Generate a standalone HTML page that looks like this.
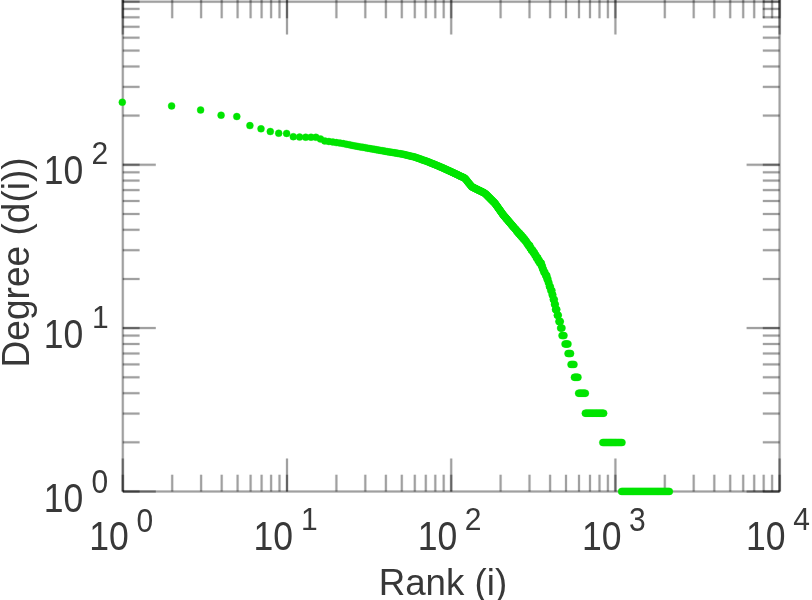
<!DOCTYPE html>
<html><head><meta charset="utf-8"><title>Degree vs Rank</title>
<style>html,body{margin:0;padding:0;background:#fff}svg{display:block}text{font-family:"Liberation Sans",sans-serif;fill:#383838}</style></head><body>
<svg width="812" height="600" viewBox="0 0 812 600">
<rect width="812" height="600" fill="#fff"/>
<g stroke="#000" stroke-opacity="0.09" stroke-width="3.2" fill="none">
<line x1="122.8" y1="0.0" x2="122.8" y2="491.5"/>
<line x1="779.6" y1="0.0" x2="779.6" y2="491.5"/>
<line x1="122.8" y1="1.7" x2="779.6" y2="1.7"/>
<line x1="122.8" y1="491.5" x2="779.6" y2="491.5"/>
<line x1="122.8" y1="491.5" x2="122.8" y2="458.5"/>
<line x1="122.8" y1="0.0" x2="122.8" y2="34.5"/>
<line x1="122.8" y1="491.5" x2="122.8" y2="474.7"/>
<line x1="122.8" y1="0.0" x2="122.8" y2="18.3"/>
<line x1="172.2" y1="491.5" x2="172.2" y2="474.7"/>
<line x1="172.2" y1="0.0" x2="172.2" y2="18.3"/>
<line x1="201.1" y1="491.5" x2="201.1" y2="474.7"/>
<line x1="201.1" y1="0.0" x2="201.1" y2="18.3"/>
<line x1="221.7" y1="491.5" x2="221.7" y2="474.7"/>
<line x1="221.7" y1="0.0" x2="221.7" y2="18.3"/>
<line x1="237.6" y1="491.5" x2="237.6" y2="474.7"/>
<line x1="237.6" y1="0.0" x2="237.6" y2="18.3"/>
<line x1="250.6" y1="491.5" x2="250.6" y2="474.7"/>
<line x1="250.6" y1="0.0" x2="250.6" y2="18.3"/>
<line x1="261.6" y1="491.5" x2="261.6" y2="474.7"/>
<line x1="261.6" y1="0.0" x2="261.6" y2="18.3"/>
<line x1="271.1" y1="491.5" x2="271.1" y2="474.7"/>
<line x1="271.1" y1="0.0" x2="271.1" y2="18.3"/>
<line x1="279.5" y1="491.5" x2="279.5" y2="474.7"/>
<line x1="279.5" y1="0.0" x2="279.5" y2="18.3"/>
<line x1="287.0" y1="491.5" x2="287.0" y2="458.5"/>
<line x1="287.0" y1="0.0" x2="287.0" y2="34.5"/>
<line x1="287.0" y1="491.5" x2="287.0" y2="474.7"/>
<line x1="287.0" y1="0.0" x2="287.0" y2="18.3"/>
<line x1="336.4" y1="491.5" x2="336.4" y2="474.7"/>
<line x1="336.4" y1="0.0" x2="336.4" y2="18.3"/>
<line x1="365.3" y1="491.5" x2="365.3" y2="474.7"/>
<line x1="365.3" y1="0.0" x2="365.3" y2="18.3"/>
<line x1="385.9" y1="491.5" x2="385.9" y2="474.7"/>
<line x1="385.9" y1="0.0" x2="385.9" y2="18.3"/>
<line x1="401.8" y1="491.5" x2="401.8" y2="474.7"/>
<line x1="401.8" y1="0.0" x2="401.8" y2="18.3"/>
<line x1="414.8" y1="491.5" x2="414.8" y2="474.7"/>
<line x1="414.8" y1="0.0" x2="414.8" y2="18.3"/>
<line x1="425.8" y1="491.5" x2="425.8" y2="474.7"/>
<line x1="425.8" y1="0.0" x2="425.8" y2="18.3"/>
<line x1="435.3" y1="491.5" x2="435.3" y2="474.7"/>
<line x1="435.3" y1="0.0" x2="435.3" y2="18.3"/>
<line x1="443.7" y1="491.5" x2="443.7" y2="474.7"/>
<line x1="443.7" y1="0.0" x2="443.7" y2="18.3"/>
<line x1="451.2" y1="491.5" x2="451.2" y2="458.5"/>
<line x1="451.2" y1="0.0" x2="451.2" y2="34.5"/>
<line x1="451.2" y1="491.5" x2="451.2" y2="474.7"/>
<line x1="451.2" y1="0.0" x2="451.2" y2="18.3"/>
<line x1="500.6" y1="491.5" x2="500.6" y2="474.7"/>
<line x1="500.6" y1="0.0" x2="500.6" y2="18.3"/>
<line x1="529.5" y1="491.5" x2="529.5" y2="474.7"/>
<line x1="529.5" y1="0.0" x2="529.5" y2="18.3"/>
<line x1="550.1" y1="491.5" x2="550.1" y2="474.7"/>
<line x1="550.1" y1="0.0" x2="550.1" y2="18.3"/>
<line x1="566.0" y1="491.5" x2="566.0" y2="474.7"/>
<line x1="566.0" y1="0.0" x2="566.0" y2="18.3"/>
<line x1="579.0" y1="491.5" x2="579.0" y2="474.7"/>
<line x1="579.0" y1="0.0" x2="579.0" y2="18.3"/>
<line x1="590.0" y1="491.5" x2="590.0" y2="474.7"/>
<line x1="590.0" y1="0.0" x2="590.0" y2="18.3"/>
<line x1="599.5" y1="491.5" x2="599.5" y2="474.7"/>
<line x1="599.5" y1="0.0" x2="599.5" y2="18.3"/>
<line x1="607.9" y1="491.5" x2="607.9" y2="474.7"/>
<line x1="607.9" y1="0.0" x2="607.9" y2="18.3"/>
<line x1="615.4" y1="491.5" x2="615.4" y2="458.5"/>
<line x1="615.4" y1="0.0" x2="615.4" y2="34.5"/>
<line x1="615.4" y1="491.5" x2="615.4" y2="474.7"/>
<line x1="615.4" y1="0.0" x2="615.4" y2="18.3"/>
<line x1="664.8" y1="491.5" x2="664.8" y2="474.7"/>
<line x1="664.8" y1="0.0" x2="664.8" y2="18.3"/>
<line x1="693.7" y1="491.5" x2="693.7" y2="474.7"/>
<line x1="693.7" y1="0.0" x2="693.7" y2="18.3"/>
<line x1="714.3" y1="491.5" x2="714.3" y2="474.7"/>
<line x1="714.3" y1="0.0" x2="714.3" y2="18.3"/>
<line x1="730.2" y1="491.5" x2="730.2" y2="474.7"/>
<line x1="730.2" y1="0.0" x2="730.2" y2="18.3"/>
<line x1="743.2" y1="491.5" x2="743.2" y2="474.7"/>
<line x1="743.2" y1="0.0" x2="743.2" y2="18.3"/>
<line x1="754.2" y1="491.5" x2="754.2" y2="474.7"/>
<line x1="754.2" y1="0.0" x2="754.2" y2="18.3"/>
<line x1="763.7" y1="491.5" x2="763.7" y2="474.7"/>
<line x1="763.7" y1="0.0" x2="763.7" y2="18.3"/>
<line x1="772.1" y1="491.5" x2="772.1" y2="474.7"/>
<line x1="772.1" y1="0.0" x2="772.1" y2="18.3"/>
<line x1="779.6" y1="491.5" x2="779.6" y2="458.5"/>
<line x1="779.6" y1="0.0" x2="779.6" y2="34.5"/>
<line x1="779.6" y1="491.5" x2="779.6" y2="474.7"/>
<line x1="779.6" y1="0.0" x2="779.6" y2="18.3"/>
<line x1="122.8" y1="491.5" x2="155.8" y2="491.5"/>
<line x1="779.6" y1="491.5" x2="746.6" y2="491.5"/>
<line x1="122.8" y1="491.5" x2="139.6" y2="491.5"/>
<line x1="779.6" y1="491.5" x2="762.8" y2="491.5"/>
<line x1="122.8" y1="442.3" x2="139.6" y2="442.3"/>
<line x1="779.6" y1="442.3" x2="762.8" y2="442.3"/>
<line x1="122.8" y1="413.6" x2="139.6" y2="413.6"/>
<line x1="779.6" y1="413.6" x2="762.8" y2="413.6"/>
<line x1="122.8" y1="393.2" x2="139.6" y2="393.2"/>
<line x1="779.6" y1="393.2" x2="762.8" y2="393.2"/>
<line x1="122.8" y1="377.3" x2="139.6" y2="377.3"/>
<line x1="779.6" y1="377.3" x2="762.8" y2="377.3"/>
<line x1="122.8" y1="364.4" x2="139.6" y2="364.4"/>
<line x1="779.6" y1="364.4" x2="762.8" y2="364.4"/>
<line x1="122.8" y1="353.5" x2="139.6" y2="353.5"/>
<line x1="779.6" y1="353.5" x2="762.8" y2="353.5"/>
<line x1="122.8" y1="344.0" x2="139.6" y2="344.0"/>
<line x1="779.6" y1="344.0" x2="762.8" y2="344.0"/>
<line x1="122.8" y1="335.6" x2="139.6" y2="335.6"/>
<line x1="779.6" y1="335.6" x2="762.8" y2="335.6"/>
<line x1="122.8" y1="328.1" x2="155.8" y2="328.1"/>
<line x1="779.6" y1="328.1" x2="746.6" y2="328.1"/>
<line x1="122.8" y1="328.1" x2="139.6" y2="328.1"/>
<line x1="779.6" y1="328.1" x2="762.8" y2="328.1"/>
<line x1="122.8" y1="279.0" x2="139.6" y2="279.0"/>
<line x1="779.6" y1="279.0" x2="762.8" y2="279.0"/>
<line x1="122.8" y1="250.2" x2="139.6" y2="250.2"/>
<line x1="779.6" y1="250.2" x2="762.8" y2="250.2"/>
<line x1="122.8" y1="229.8" x2="139.6" y2="229.8"/>
<line x1="779.6" y1="229.8" x2="762.8" y2="229.8"/>
<line x1="122.8" y1="214.0" x2="139.6" y2="214.0"/>
<line x1="779.6" y1="214.0" x2="762.8" y2="214.0"/>
<line x1="122.8" y1="201.0" x2="139.6" y2="201.0"/>
<line x1="779.6" y1="201.0" x2="762.8" y2="201.0"/>
<line x1="122.8" y1="190.1" x2="139.6" y2="190.1"/>
<line x1="779.6" y1="190.1" x2="762.8" y2="190.1"/>
<line x1="122.8" y1="180.6" x2="139.6" y2="180.6"/>
<line x1="779.6" y1="180.6" x2="762.8" y2="180.6"/>
<line x1="122.8" y1="172.3" x2="139.6" y2="172.3"/>
<line x1="779.6" y1="172.3" x2="762.8" y2="172.3"/>
<line x1="122.8" y1="164.8" x2="155.8" y2="164.8"/>
<line x1="779.6" y1="164.8" x2="746.6" y2="164.8"/>
<line x1="122.8" y1="164.8" x2="139.6" y2="164.8"/>
<line x1="779.6" y1="164.8" x2="762.8" y2="164.8"/>
<line x1="122.8" y1="115.6" x2="139.6" y2="115.6"/>
<line x1="779.6" y1="115.6" x2="762.8" y2="115.6"/>
<line x1="122.8" y1="86.9" x2="139.6" y2="86.9"/>
<line x1="779.6" y1="86.9" x2="762.8" y2="86.9"/>
<line x1="122.8" y1="66.5" x2="139.6" y2="66.5"/>
<line x1="779.6" y1="66.5" x2="762.8" y2="66.5"/>
<line x1="122.8" y1="50.6" x2="139.6" y2="50.6"/>
<line x1="779.6" y1="50.6" x2="762.8" y2="50.6"/>
<line x1="122.8" y1="37.7" x2="139.6" y2="37.7"/>
<line x1="779.6" y1="37.7" x2="762.8" y2="37.7"/>
<line x1="122.8" y1="26.8" x2="139.6" y2="26.8"/>
<line x1="779.6" y1="26.8" x2="762.8" y2="26.8"/>
<line x1="122.8" y1="17.3" x2="139.6" y2="17.3"/>
<line x1="779.6" y1="17.3" x2="762.8" y2="17.3"/>
<line x1="122.8" y1="8.9" x2="139.6" y2="8.9"/>
<line x1="779.6" y1="8.9" x2="762.8" y2="8.9"/>
<line x1="122.8" y1="1.7" x2="139.6" y2="1.7"/>
<line x1="779.6" y1="1.7" x2="762.8" y2="1.7"/>
</g>
<g stroke="#000" stroke-opacity="0.31" stroke-width="2.0" fill="none">
<line x1="122.8" y1="0.0" x2="122.8" y2="491.5"/>
<line x1="779.6" y1="0.0" x2="779.6" y2="491.5"/>
<line x1="122.8" y1="1.7" x2="779.6" y2="1.7"/>
<line x1="122.8" y1="491.5" x2="779.6" y2="491.5"/>
<line x1="122.8" y1="491.5" x2="122.8" y2="458.5"/>
<line x1="122.8" y1="0.0" x2="122.8" y2="34.5"/>
<line x1="122.8" y1="491.5" x2="122.8" y2="474.7"/>
<line x1="122.8" y1="0.0" x2="122.8" y2="18.3"/>
<line x1="172.2" y1="491.5" x2="172.2" y2="474.7"/>
<line x1="172.2" y1="0.0" x2="172.2" y2="18.3"/>
<line x1="201.1" y1="491.5" x2="201.1" y2="474.7"/>
<line x1="201.1" y1="0.0" x2="201.1" y2="18.3"/>
<line x1="221.7" y1="491.5" x2="221.7" y2="474.7"/>
<line x1="221.7" y1="0.0" x2="221.7" y2="18.3"/>
<line x1="237.6" y1="491.5" x2="237.6" y2="474.7"/>
<line x1="237.6" y1="0.0" x2="237.6" y2="18.3"/>
<line x1="250.6" y1="491.5" x2="250.6" y2="474.7"/>
<line x1="250.6" y1="0.0" x2="250.6" y2="18.3"/>
<line x1="261.6" y1="491.5" x2="261.6" y2="474.7"/>
<line x1="261.6" y1="0.0" x2="261.6" y2="18.3"/>
<line x1="271.1" y1="491.5" x2="271.1" y2="474.7"/>
<line x1="271.1" y1="0.0" x2="271.1" y2="18.3"/>
<line x1="279.5" y1="491.5" x2="279.5" y2="474.7"/>
<line x1="279.5" y1="0.0" x2="279.5" y2="18.3"/>
<line x1="287.0" y1="491.5" x2="287.0" y2="458.5"/>
<line x1="287.0" y1="0.0" x2="287.0" y2="34.5"/>
<line x1="287.0" y1="491.5" x2="287.0" y2="474.7"/>
<line x1="287.0" y1="0.0" x2="287.0" y2="18.3"/>
<line x1="336.4" y1="491.5" x2="336.4" y2="474.7"/>
<line x1="336.4" y1="0.0" x2="336.4" y2="18.3"/>
<line x1="365.3" y1="491.5" x2="365.3" y2="474.7"/>
<line x1="365.3" y1="0.0" x2="365.3" y2="18.3"/>
<line x1="385.9" y1="491.5" x2="385.9" y2="474.7"/>
<line x1="385.9" y1="0.0" x2="385.9" y2="18.3"/>
<line x1="401.8" y1="491.5" x2="401.8" y2="474.7"/>
<line x1="401.8" y1="0.0" x2="401.8" y2="18.3"/>
<line x1="414.8" y1="491.5" x2="414.8" y2="474.7"/>
<line x1="414.8" y1="0.0" x2="414.8" y2="18.3"/>
<line x1="425.8" y1="491.5" x2="425.8" y2="474.7"/>
<line x1="425.8" y1="0.0" x2="425.8" y2="18.3"/>
<line x1="435.3" y1="491.5" x2="435.3" y2="474.7"/>
<line x1="435.3" y1="0.0" x2="435.3" y2="18.3"/>
<line x1="443.7" y1="491.5" x2="443.7" y2="474.7"/>
<line x1="443.7" y1="0.0" x2="443.7" y2="18.3"/>
<line x1="451.2" y1="491.5" x2="451.2" y2="458.5"/>
<line x1="451.2" y1="0.0" x2="451.2" y2="34.5"/>
<line x1="451.2" y1="491.5" x2="451.2" y2="474.7"/>
<line x1="451.2" y1="0.0" x2="451.2" y2="18.3"/>
<line x1="500.6" y1="491.5" x2="500.6" y2="474.7"/>
<line x1="500.6" y1="0.0" x2="500.6" y2="18.3"/>
<line x1="529.5" y1="491.5" x2="529.5" y2="474.7"/>
<line x1="529.5" y1="0.0" x2="529.5" y2="18.3"/>
<line x1="550.1" y1="491.5" x2="550.1" y2="474.7"/>
<line x1="550.1" y1="0.0" x2="550.1" y2="18.3"/>
<line x1="566.0" y1="491.5" x2="566.0" y2="474.7"/>
<line x1="566.0" y1="0.0" x2="566.0" y2="18.3"/>
<line x1="579.0" y1="491.5" x2="579.0" y2="474.7"/>
<line x1="579.0" y1="0.0" x2="579.0" y2="18.3"/>
<line x1="590.0" y1="491.5" x2="590.0" y2="474.7"/>
<line x1="590.0" y1="0.0" x2="590.0" y2="18.3"/>
<line x1="599.5" y1="491.5" x2="599.5" y2="474.7"/>
<line x1="599.5" y1="0.0" x2="599.5" y2="18.3"/>
<line x1="607.9" y1="491.5" x2="607.9" y2="474.7"/>
<line x1="607.9" y1="0.0" x2="607.9" y2="18.3"/>
<line x1="615.4" y1="491.5" x2="615.4" y2="458.5"/>
<line x1="615.4" y1="0.0" x2="615.4" y2="34.5"/>
<line x1="615.4" y1="491.5" x2="615.4" y2="474.7"/>
<line x1="615.4" y1="0.0" x2="615.4" y2="18.3"/>
<line x1="664.8" y1="491.5" x2="664.8" y2="474.7"/>
<line x1="664.8" y1="0.0" x2="664.8" y2="18.3"/>
<line x1="693.7" y1="491.5" x2="693.7" y2="474.7"/>
<line x1="693.7" y1="0.0" x2="693.7" y2="18.3"/>
<line x1="714.3" y1="491.5" x2="714.3" y2="474.7"/>
<line x1="714.3" y1="0.0" x2="714.3" y2="18.3"/>
<line x1="730.2" y1="491.5" x2="730.2" y2="474.7"/>
<line x1="730.2" y1="0.0" x2="730.2" y2="18.3"/>
<line x1="743.2" y1="491.5" x2="743.2" y2="474.7"/>
<line x1="743.2" y1="0.0" x2="743.2" y2="18.3"/>
<line x1="754.2" y1="491.5" x2="754.2" y2="474.7"/>
<line x1="754.2" y1="0.0" x2="754.2" y2="18.3"/>
<line x1="763.7" y1="491.5" x2="763.7" y2="474.7"/>
<line x1="763.7" y1="0.0" x2="763.7" y2="18.3"/>
<line x1="772.1" y1="491.5" x2="772.1" y2="474.7"/>
<line x1="772.1" y1="0.0" x2="772.1" y2="18.3"/>
<line x1="779.6" y1="491.5" x2="779.6" y2="458.5"/>
<line x1="779.6" y1="0.0" x2="779.6" y2="34.5"/>
<line x1="779.6" y1="491.5" x2="779.6" y2="474.7"/>
<line x1="779.6" y1="0.0" x2="779.6" y2="18.3"/>
<line x1="122.8" y1="491.5" x2="155.8" y2="491.5"/>
<line x1="779.6" y1="491.5" x2="746.6" y2="491.5"/>
<line x1="122.8" y1="491.5" x2="139.6" y2="491.5"/>
<line x1="779.6" y1="491.5" x2="762.8" y2="491.5"/>
<line x1="122.8" y1="442.3" x2="139.6" y2="442.3"/>
<line x1="779.6" y1="442.3" x2="762.8" y2="442.3"/>
<line x1="122.8" y1="413.6" x2="139.6" y2="413.6"/>
<line x1="779.6" y1="413.6" x2="762.8" y2="413.6"/>
<line x1="122.8" y1="393.2" x2="139.6" y2="393.2"/>
<line x1="779.6" y1="393.2" x2="762.8" y2="393.2"/>
<line x1="122.8" y1="377.3" x2="139.6" y2="377.3"/>
<line x1="779.6" y1="377.3" x2="762.8" y2="377.3"/>
<line x1="122.8" y1="364.4" x2="139.6" y2="364.4"/>
<line x1="779.6" y1="364.4" x2="762.8" y2="364.4"/>
<line x1="122.8" y1="353.5" x2="139.6" y2="353.5"/>
<line x1="779.6" y1="353.5" x2="762.8" y2="353.5"/>
<line x1="122.8" y1="344.0" x2="139.6" y2="344.0"/>
<line x1="779.6" y1="344.0" x2="762.8" y2="344.0"/>
<line x1="122.8" y1="335.6" x2="139.6" y2="335.6"/>
<line x1="779.6" y1="335.6" x2="762.8" y2="335.6"/>
<line x1="122.8" y1="328.1" x2="155.8" y2="328.1"/>
<line x1="779.6" y1="328.1" x2="746.6" y2="328.1"/>
<line x1="122.8" y1="328.1" x2="139.6" y2="328.1"/>
<line x1="779.6" y1="328.1" x2="762.8" y2="328.1"/>
<line x1="122.8" y1="279.0" x2="139.6" y2="279.0"/>
<line x1="779.6" y1="279.0" x2="762.8" y2="279.0"/>
<line x1="122.8" y1="250.2" x2="139.6" y2="250.2"/>
<line x1="779.6" y1="250.2" x2="762.8" y2="250.2"/>
<line x1="122.8" y1="229.8" x2="139.6" y2="229.8"/>
<line x1="779.6" y1="229.8" x2="762.8" y2="229.8"/>
<line x1="122.8" y1="214.0" x2="139.6" y2="214.0"/>
<line x1="779.6" y1="214.0" x2="762.8" y2="214.0"/>
<line x1="122.8" y1="201.0" x2="139.6" y2="201.0"/>
<line x1="779.6" y1="201.0" x2="762.8" y2="201.0"/>
<line x1="122.8" y1="190.1" x2="139.6" y2="190.1"/>
<line x1="779.6" y1="190.1" x2="762.8" y2="190.1"/>
<line x1="122.8" y1="180.6" x2="139.6" y2="180.6"/>
<line x1="779.6" y1="180.6" x2="762.8" y2="180.6"/>
<line x1="122.8" y1="172.3" x2="139.6" y2="172.3"/>
<line x1="779.6" y1="172.3" x2="762.8" y2="172.3"/>
<line x1="122.8" y1="164.8" x2="155.8" y2="164.8"/>
<line x1="779.6" y1="164.8" x2="746.6" y2="164.8"/>
<line x1="122.8" y1="164.8" x2="139.6" y2="164.8"/>
<line x1="779.6" y1="164.8" x2="762.8" y2="164.8"/>
<line x1="122.8" y1="115.6" x2="139.6" y2="115.6"/>
<line x1="779.6" y1="115.6" x2="762.8" y2="115.6"/>
<line x1="122.8" y1="86.9" x2="139.6" y2="86.9"/>
<line x1="779.6" y1="86.9" x2="762.8" y2="86.9"/>
<line x1="122.8" y1="66.5" x2="139.6" y2="66.5"/>
<line x1="779.6" y1="66.5" x2="762.8" y2="66.5"/>
<line x1="122.8" y1="50.6" x2="139.6" y2="50.6"/>
<line x1="779.6" y1="50.6" x2="762.8" y2="50.6"/>
<line x1="122.8" y1="37.7" x2="139.6" y2="37.7"/>
<line x1="779.6" y1="37.7" x2="762.8" y2="37.7"/>
<line x1="122.8" y1="26.8" x2="139.6" y2="26.8"/>
<line x1="779.6" y1="26.8" x2="762.8" y2="26.8"/>
<line x1="122.8" y1="17.3" x2="139.6" y2="17.3"/>
<line x1="779.6" y1="17.3" x2="762.8" y2="17.3"/>
<line x1="122.8" y1="8.9" x2="139.6" y2="8.9"/>
<line x1="779.6" y1="8.9" x2="762.8" y2="8.9"/>
<line x1="122.8" y1="1.7" x2="139.6" y2="1.7"/>
<line x1="779.6" y1="1.7" x2="762.8" y2="1.7"/>
</g>
<g fill="#00e400" stroke="#00e400" stroke-opacity="0.35" stroke-width="1">
<circle cx="122.3" cy="102.2" r="3.5"/>
<circle cx="171.6" cy="105.9" r="3.5"/>
<circle cx="200.6" cy="110.0" r="3.5"/>
<circle cx="221.1" cy="115.2" r="3.5"/>
<circle cx="236.8" cy="116.5" r="3.5"/>
<circle cx="249.9" cy="125.6" r="3.5"/>
<circle cx="261" cy="128.8" r="3.5"/>
<circle cx="270.3" cy="131.5" r="3.5"/>
<circle cx="278.7" cy="133.2" r="3.5"/>
<circle cx="286.6" cy="133.4" r="3.5"/>
<circle cx="293.3" cy="136.7" r="3.5"/>
<circle cx="299.6" cy="137.1" r="3.5"/>
<circle cx="305.7" cy="137.2" r="3.5"/>
<circle cx="311.0" cy="137.2" r="3.5"/>
<circle cx="315.9" cy="137.3" r="3.5"/>
<circle cx="320.5" cy="139.0" r="3.5"/>
<circle cx="324.8" cy="140.9" r="3.5"/>
<circle cx="328.9" cy="141.5" r="3.5"/>
<circle cx="332.8" cy="142.0" r="3.5"/>
<circle cx="336.4" cy="142.6" r="3.5"/>
<circle cx="339.9" cy="143.1" r="3.5"/>
<circle cx="343.2" cy="143.6" r="3.5"/>
<circle cx="346.4" cy="144.2" r="3.5"/>
<circle cx="349.4" cy="144.8" r="3.5"/>
<circle cx="352.3" cy="145.4" r="3.5"/>
<circle cx="355.1" cy="145.9" r="3.5"/>
<circle cx="357.8" cy="146.4" r="3.5"/>
<circle cx="360.4" cy="146.9" r="3.5"/>
<circle cx="362.9" cy="147.3" r="3.5"/>
<circle cx="365.3" cy="147.7" r="3.5"/>
<circle cx="367.7" cy="148.2" r="3.5"/>
<circle cx="369.9" cy="148.6" r="3.5"/>
<circle cx="372.1" cy="149.0" r="3.5"/>
<circle cx="374.3" cy="149.3" r="3.5"/>
<circle cx="376.3" cy="149.7" r="3.5"/>
<circle cx="378.3" cy="150.1" r="3.5"/>
<circle cx="380.3" cy="150.4" r="3.5"/>
<circle cx="382.2" cy="150.7" r="3.5"/>
<circle cx="384.1" cy="151.0" r="3.5"/>
<circle cx="385.9" cy="151.4" r="3.5"/>
<circle cx="387.6" cy="151.7" r="3.5"/>
<circle cx="389.3" cy="151.9" r="3.5"/>
<circle cx="391.0" cy="152.2" r="3.5"/>
<circle cx="392.7" cy="152.5" r="3.5"/>
<circle cx="394.3" cy="152.8" r="3.5"/>
<circle cx="395.8" cy="153.0" r="3.5"/>
<circle cx="397.4" cy="153.3" r="3.5"/>
<circle cx="398.9" cy="153.6" r="3.5"/>
<circle cx="400.3" cy="153.8" r="3.5"/>
<circle cx="401.8" cy="154.1" r="3.5"/>
<circle cx="403.2" cy="154.3" r="3.5"/>
<circle cx="404.6" cy="154.6" r="3.5"/>
<circle cx="405.9" cy="155.0" r="3.5"/>
<circle cx="407.3" cy="155.3" r="3.5"/>
<circle cx="408.6" cy="155.6" r="3.5"/>
<circle cx="409.9" cy="155.9" r="3.5"/>
<circle cx="411.1" cy="156.2" r="3.5"/>
<circle cx="412.4" cy="156.5" r="3.5"/>
<circle cx="413.6" cy="156.8" r="3.5"/>
<circle cx="414.8" cy="157.1" r="3.5"/>
<circle cx="416.0" cy="157.5" r="3.5"/>
<circle cx="417.1" cy="157.9" r="3.5"/>
<circle cx="418.3" cy="158.3" r="3.5"/>
<circle cx="419.4" cy="158.7" r="3.5"/>
<circle cx="420.5" cy="159.1" r="3.5"/>
<circle cx="421.6" cy="159.5" r="3.5"/>
<circle cx="422.6" cy="159.9" r="3.5"/>
<circle cx="423.7" cy="160.2" r="3.5"/>
<circle cx="424.7" cy="160.6" r="3.5"/>
<circle cx="425.8" cy="161.0" r="3.5"/>
<circle cx="426.8" cy="161.3" r="3.5"/>
<circle cx="427.8" cy="161.7" r="3.5"/>
<circle cx="428.8" cy="162.1" r="3.5"/>
<circle cx="429.7" cy="162.5" r="3.5"/>
<circle cx="430.7" cy="162.9" r="3.5"/>
<circle cx="431.6" cy="163.3" r="3.5"/>
<circle cx="432.6" cy="163.6" r="3.5"/>
<circle cx="433.5" cy="164.0" r="3.5"/>
<circle cx="434.4" cy="164.4" r="3.5"/>
<circle cx="435.3" cy="164.7" r="3.5"/>
<circle cx="436.2" cy="165.1" r="3.5"/>
<circle cx="437.0" cy="165.5" r="3.5"/>
<circle cx="437.9" cy="165.8" r="3.5"/>
<circle cx="438.8" cy="166.2" r="3.5"/>
<circle cx="439.6" cy="166.5" r="3.5"/>
<circle cx="440.4" cy="166.9" r="3.5"/>
<circle cx="441.3" cy="167.2" r="3.5"/>
<circle cx="442.1" cy="167.6" r="3.5"/>
<circle cx="442.9" cy="168.0" r="3.5"/>
<circle cx="443.7" cy="168.3" r="3.5"/>
<circle cx="444.5" cy="168.7" r="3.5"/>
<circle cx="445.3" cy="169.0" r="3.5"/>
<circle cx="446.0" cy="169.4" r="3.5"/>
<circle cx="446.8" cy="169.7" r="3.5"/>
<circle cx="447.5" cy="170.1" r="3.5"/>
<circle cx="448.3" cy="170.4" r="3.5"/>
<circle cx="449.0" cy="170.8" r="3.5"/>
<circle cx="449.8" cy="171.1" r="3.5"/>
<circle cx="450.5" cy="171.4" r="3.5"/>
<circle cx="451.2" cy="171.7" r="3.5"/>
<circle cx="451.9" cy="172.1" r="3.5"/>
<circle cx="452.6" cy="172.4" r="3.5"/>
<circle cx="453.3" cy="172.7" r="3.5"/>
<circle cx="454.0" cy="173.0" r="3.5"/>
<circle cx="454.7" cy="173.4" r="3.5"/>
<circle cx="455.4" cy="173.7" r="3.5"/>
<circle cx="456.0" cy="174.0" r="3.5"/>
<circle cx="456.7" cy="174.3" r="3.5"/>
<circle cx="457.3" cy="174.6" r="3.5"/>
<circle cx="458.0" cy="174.9" r="3.5"/>
<circle cx="458.6" cy="175.3" r="3.5"/>
<circle cx="459.3" cy="175.6" r="3.5"/>
<circle cx="459.9" cy="175.9" r="3.5"/>
<circle cx="460.5" cy="176.2" r="3.5"/>
<circle cx="461.2" cy="176.5" r="3.5"/>
<circle cx="461.8" cy="176.8" r="3.5"/>
<circle cx="462.4" cy="177.1" r="3.5"/>
<circle cx="463.0" cy="177.3" r="3.5"/>
<circle cx="463.6" cy="177.6" r="3.5"/>
<circle cx="464.2" cy="177.9" r="3.5"/>
<circle cx="464.8" cy="178.2" r="3.5"/>
<circle cx="465.4" cy="178.8" r="3.5"/>
<circle cx="466.0" cy="179.5" r="3.5"/>
<circle cx="466.5" cy="180.2" r="3.5"/>
<circle cx="467.1" cy="180.9" r="3.5"/>
<circle cx="467.7" cy="181.7" r="3.5"/>
<circle cx="468.2" cy="182.4" r="3.5"/>
<circle cx="468.8" cy="183.1" r="3.5"/>
<circle cx="469.4" cy="183.8" r="3.5"/>
<circle cx="469.9" cy="184.5" r="3.5"/>
<circle cx="470.5" cy="185.1" r="3.5"/>
<circle cx="471.0" cy="185.8" r="3.5"/>
<circle cx="471.5" cy="186.5" r="3.5"/>
<circle cx="472.1" cy="186.9" r="3.5"/>
<circle cx="472.6" cy="187.1" r="3.5"/>
<circle cx="473.1" cy="187.4" r="3.5"/>
<circle cx="473.6" cy="187.7" r="3.5"/>
<circle cx="474.2" cy="187.9" r="3.5"/>
<circle cx="474.7" cy="188.2" r="3.5"/>
<circle cx="475.2" cy="188.4" r="3.5"/>
<circle cx="475.7" cy="188.7" r="3.5"/>
<circle cx="476.2" cy="188.9" r="3.5"/>
<circle cx="476.7" cy="189.2" r="3.5"/>
<circle cx="477.2" cy="189.4" r="3.5"/>
<circle cx="477.7" cy="189.7" r="3.5"/>
<circle cx="478.2" cy="189.9" r="3.5"/>
<circle cx="478.7" cy="190.2" r="3.5"/>
<circle cx="479.2" cy="190.4" r="3.5"/>
<circle cx="479.6" cy="190.6" r="3.5"/>
<circle cx="480.1" cy="190.9" r="3.5"/>
<circle cx="480.6" cy="191.1" r="3.5"/>
<circle cx="481.1" cy="191.3" r="3.5"/>
<circle cx="481.5" cy="191.6" r="3.5"/>
<circle cx="482.0" cy="191.8" r="3.5"/>
<circle cx="482.5" cy="192.0" r="3.5"/>
<circle cx="482.9" cy="192.3" r="3.5"/>
<circle cx="483.4" cy="192.5" r="3.5"/>
<circle cx="483.8" cy="192.7" r="3.5"/>
<circle cx="484.3" cy="192.9" r="3.5"/>
<circle cx="485.2" cy="193.5" r="3.5"/>
<circle cx="485.6" cy="193.9" r="3.5"/>
<circle cx="486.0" cy="194.3" r="3.5"/>
<circle cx="486.5" cy="194.8" r="3.5"/>
<circle cx="486.9" cy="195.2" r="3.5"/>
<circle cx="487.3" cy="195.6" r="3.5"/>
<circle cx="487.8" cy="196.1" r="3.5"/>
<circle cx="488.2" cy="196.5" r="3.5"/>
<circle cx="488.6" cy="196.9" r="3.5"/>
<circle cx="489.0" cy="197.3" r="3.5"/>
<circle cx="489.5" cy="197.8" r="3.5"/>
<circle cx="489.9" cy="198.2" r="3.5"/>
<circle cx="490.3" cy="198.6" r="3.5"/>
<circle cx="490.7" cy="199.0" r="3.5"/>
<circle cx="491.1" cy="199.4" r="3.5"/>
<circle cx="491.5" cy="199.8" r="3.5"/>
<circle cx="491.9" cy="200.2" r="3.5"/>
<circle cx="492.3" cy="200.6" r="3.5"/>
<circle cx="492.7" cy="201.0" r="3.5"/>
<circle cx="493.1" cy="201.4" r="3.5"/>
<circle cx="493.5" cy="201.8" r="3.5"/>
<circle cx="493.9" cy="202.2" r="3.5"/>
<circle cx="494.3" cy="202.6" r="3.5"/>
<circle cx="494.7" cy="203.0" r="3.5"/>
<circle cx="495.1" cy="203.4" r="3.5"/>
<circle cx="495.5" cy="203.9" r="3.5"/>
<circle cx="495.8" cy="204.5" r="3.5"/>
<circle cx="496.2" cy="205.0" r="3.5"/>
<circle cx="496.6" cy="205.5" r="3.5"/>
<circle cx="497.0" cy="206.1" r="3.5"/>
<circle cx="497.3" cy="206.6" r="3.5"/>
<circle cx="497.7" cy="207.1" r="3.5"/>
<circle cx="498.1" cy="207.7" r="3.5"/>
<circle cx="498.5" cy="208.2" r="3.5"/>
<circle cx="498.8" cy="208.7" r="3.5"/>
<circle cx="499.2" cy="209.2" r="3.5"/>
<circle cx="499.6" cy="209.7" r="3.5"/>
<circle cx="499.9" cy="210.2" r="3.5"/>
<circle cx="500.3" cy="210.7" r="3.5"/>
<circle cx="500.6" cy="211.2" r="3.5"/>
<circle cx="501.0" cy="211.7" r="3.5"/>
<circle cx="501.3" cy="212.2" r="3.5"/>
<circle cx="501.7" cy="212.7" r="3.5"/>
<circle cx="502.0" cy="213.2" r="3.5"/>
<circle cx="502.4" cy="213.7" r="3.5"/>
<circle cx="502.7" cy="214.2" r="3.5"/>
<circle cx="503.1" cy="214.7" r="3.5"/>
<circle cx="503.4" cy="215.1" r="3.5"/>
<circle cx="503.8" cy="215.5" r="3.5"/>
<circle cx="504.1" cy="215.9" r="3.5"/>
<circle cx="504.4" cy="216.3" r="3.5"/>
<circle cx="504.8" cy="216.7" r="3.5"/>
<circle cx="505.1" cy="217.1" r="3.5"/>
<circle cx="505.5" cy="217.5" r="3.5"/>
<circle cx="505.8" cy="217.9" r="3.5"/>
<circle cx="506.1" cy="218.3" r="3.5"/>
<circle cx="506.4" cy="218.7" r="3.5"/>
<circle cx="506.8" cy="219.1" r="3.5"/>
<circle cx="507.1" cy="219.4" r="3.5"/>
<circle cx="507.4" cy="219.8" r="3.5"/>
<circle cx="508.1" cy="220.6" r="3.5"/>
<circle cx="508.4" cy="221.0" r="3.5"/>
<circle cx="508.7" cy="221.3" r="3.5"/>
<circle cx="509.0" cy="221.7" r="3.5"/>
<circle cx="509.3" cy="222.1" r="3.5"/>
<circle cx="509.7" cy="222.4" r="3.5"/>
<circle cx="510.0" cy="222.8" r="3.5"/>
<circle cx="510.3" cy="223.2" r="3.5"/>
<circle cx="510.6" cy="223.5" r="3.5"/>
<circle cx="510.9" cy="223.9" r="3.5"/>
<circle cx="511.2" cy="224.3" r="3.5"/>
<circle cx="511.5" cy="224.6" r="3.5"/>
<circle cx="511.8" cy="225.0" r="3.5"/>
<circle cx="512.1" cy="225.3" r="3.5"/>
<circle cx="512.4" cy="225.7" r="3.5"/>
<circle cx="512.7" cy="226.0" r="3.5"/>
<circle cx="513.0" cy="226.4" r="3.5"/>
<circle cx="513.3" cy="226.7" r="3.5"/>
<circle cx="513.6" cy="227.1" r="3.5"/>
<circle cx="513.9" cy="227.4" r="3.5"/>
<circle cx="514.5" cy="228.1" r="3.5"/>
<circle cx="514.8" cy="228.4" r="3.5"/>
<circle cx="515.4" cy="229.1" r="3.5"/>
<circle cx="515.7" cy="229.4" r="3.5"/>
<circle cx="516.0" cy="229.7" r="3.5"/>
<circle cx="516.3" cy="229.8" r="3.5"/>
<circle cx="516.8" cy="231.6" r="3.5"/>
<circle cx="517.4" cy="231.6" r="3.5"/>
<circle cx="518.0" cy="231.6" r="3.5"/>
<circle cx="518.5" cy="233.4" r="3.5"/>
<circle cx="518.8" cy="233.4" r="3.5"/>
<circle cx="519.3" cy="233.4" r="3.5"/>
<circle cx="519.9" cy="233.4" r="3.5"/>
<circle cx="520.2" cy="235.3" r="3.5"/>
<circle cx="520.4" cy="235.3" r="3.5"/>
<circle cx="521.0" cy="235.3" r="3.5"/>
<circle cx="521.5" cy="235.3" r="3.5"/>
<circle cx="521.8" cy="237.3" r="3.5"/>
<circle cx="522.3" cy="237.3" r="3.5"/>
<circle cx="522.8" cy="237.3" r="3.5"/>
<circle cx="523.3" cy="237.3" r="3.5"/>
<circle cx="523.6" cy="239.3" r="3.5"/>
<circle cx="523.9" cy="239.3" r="3.5"/>
<circle cx="524.4" cy="239.3" r="3.5"/>
<circle cx="524.9" cy="239.3" r="3.5"/>
<circle cx="525.4" cy="241.3" r="3.5"/>
<circle cx="525.9" cy="241.3" r="3.5"/>
<circle cx="526.4" cy="241.3" r="3.5"/>
<circle cx="526.9" cy="243.5" r="3.5"/>
<circle cx="527.4" cy="243.5" r="3.5"/>
<circle cx="527.9" cy="243.5" r="3.5"/>
<circle cx="528.3" cy="245.6" r="3.5"/>
<circle cx="528.8" cy="245.6" r="3.5"/>
<circle cx="529.3" cy="245.6" r="3.5"/>
<circle cx="529.8" cy="245.6" r="3.5"/>
<circle cx="530.0" cy="247.9" r="3.5"/>
<circle cx="530.3" cy="247.9" r="3.5"/>
<circle cx="531.0" cy="247.9" r="3.5"/>
<circle cx="531.4" cy="250.2" r="3.5"/>
<circle cx="531.9" cy="250.2" r="3.5"/>
<circle cx="532.3" cy="250.2" r="3.5"/>
<circle cx="532.8" cy="250.2" r="3.5"/>
<circle cx="533.2" cy="252.6" r="3.5"/>
<circle cx="533.5" cy="252.6" r="3.5"/>
<circle cx="533.9" cy="252.6" r="3.5"/>
<circle cx="534.4" cy="252.6" r="3.5"/>
<circle cx="534.8" cy="255.1" r="3.5"/>
<circle cx="535.3" cy="255.1" r="3.5"/>
<circle cx="535.9" cy="255.1" r="3.5"/>
<circle cx="536.3" cy="257.7" r="3.5"/>
<circle cx="536.8" cy="257.7" r="3.5"/>
<circle cx="537.4" cy="257.7" r="3.5"/>
<circle cx="537.8" cy="257.7" r="3.5"/>
<circle cx="538.0" cy="260.4" r="3.5"/>
<circle cx="538.3" cy="260.4" r="3.5"/>
<circle cx="538.9" cy="260.4" r="3.5"/>
<circle cx="539.3" cy="260.4" r="3.5"/>
<circle cx="539.7" cy="263.1" r="3.5"/>
<circle cx="539.9" cy="263.1" r="3.5"/>
<circle cx="540.3" cy="263.1" r="3.5"/>
<circle cx="540.9" cy="263.1" r="3.5"/>
<circle cx="541.3" cy="263.1" r="3.5"/>
<circle cx="541.5" cy="266.0" r="3.5"/>
<circle cx="541.9" cy="266.0" r="3.5"/>
<circle cx="542.3" cy="266.0" r="3.5"/>
<circle cx="542.7" cy="269.1" r="3.5"/>
<circle cx="542.9" cy="269.1" r="3.5"/>
<circle cx="543.3" cy="269.1" r="3.5"/>
<circle cx="543.9" cy="272.2" r="3.5"/>
<circle cx="544.3" cy="272.2" r="3.5"/>
<circle cx="544.9" cy="272.2" r="3.5"/>
<circle cx="545.7" cy="275.5" r="3.5"/>
<circle cx="545.9" cy="275.5" r="3.5"/>
<circle cx="546.4" cy="275.5" r="3.5"/>
<circle cx="546.8" cy="275.5" r="3.5"/>
<circle cx="547.0" cy="279.0" r="3.5"/>
<circle cx="547.4" cy="279.0" r="3.5"/>
<circle cx="547.9" cy="279.0" r="3.5"/>
<circle cx="548.3" cy="282.6" r="3.5"/>
<circle cx="548.9" cy="282.6" r="3.5"/>
<circle cx="549.4" cy="286.5" r="3.5"/>
<circle cx="549.8" cy="286.5" r="3.5"/>
<circle cx="550.3" cy="286.5" r="3.5"/>
<circle cx="550.8" cy="290.5" r="3.5"/>
<circle cx="551.4" cy="290.5" r="3.5"/>
<circle cx="551.9" cy="290.5" r="3.5"/>
<circle cx="552.2" cy="294.8" r="3.5"/>
<circle cx="552.4" cy="294.8" r="3.5"/>
<circle cx="552.8" cy="294.8" r="3.5"/>
<circle cx="553.3" cy="299.4" r="3.5"/>
<circle cx="553.8" cy="299.4" r="3.5"/>
<circle cx="554.3" cy="299.4" r="3.5"/>
<circle cx="554.5" cy="304.3" r="3.5"/>
<circle cx="554.8" cy="304.3" r="3.5"/>
<circle cx="555.3" cy="304.3" r="3.5"/>
<circle cx="555.6" cy="309.5" r="3.5"/>
<circle cx="555.8" cy="309.5" r="3.5"/>
<circle cx="556.3" cy="309.5" r="3.5"/>
<circle cx="556.8" cy="309.5" r="3.5"/>
<circle cx="557.3" cy="315.2" r="3.5"/>
<circle cx="557.8" cy="315.2" r="3.5"/>
<circle cx="558.3" cy="315.2" r="3.5"/>
<circle cx="558.9" cy="321.4" r="3.5"/>
<circle cx="559.4" cy="321.4" r="3.5"/>
<circle cx="559.8" cy="321.4" r="3.5"/>
<circle cx="560.3" cy="321.4" r="3.5"/>
<circle cx="621.6" cy="491.4" r="3.5"/>
<circle cx="622.6" cy="491.4" r="3.5"/>
<circle cx="623.6" cy="491.4" r="3.5"/>
<circle cx="624.6" cy="491.4" r="3.5"/>
<circle cx="625.6" cy="491.4" r="3.5"/>
<circle cx="626.6" cy="491.4" r="3.5"/>
<circle cx="627.6" cy="491.4" r="3.5"/>
<circle cx="628.6" cy="491.4" r="3.5"/>
<circle cx="629.6" cy="491.4" r="3.5"/>
<circle cx="630.6" cy="491.4" r="3.5"/>
<circle cx="631.6" cy="491.4" r="3.5"/>
<circle cx="632.6" cy="491.4" r="3.5"/>
<circle cx="633.5" cy="491.4" r="3.5"/>
<circle cx="634.5" cy="491.4" r="3.5"/>
<circle cx="635.5" cy="491.4" r="3.5"/>
<circle cx="636.5" cy="491.4" r="3.5"/>
<circle cx="637.5" cy="491.4" r="3.5"/>
<circle cx="638.5" cy="491.4" r="3.5"/>
<circle cx="639.5" cy="491.4" r="3.5"/>
<circle cx="640.5" cy="491.4" r="3.5"/>
<circle cx="641.5" cy="491.4" r="3.5"/>
<circle cx="642.5" cy="491.4" r="3.5"/>
<circle cx="643.5" cy="491.4" r="3.5"/>
<circle cx="644.5" cy="491.4" r="3.5"/>
<circle cx="645.5" cy="491.4" r="3.5"/>
<circle cx="646.5" cy="491.4" r="3.5"/>
<circle cx="647.5" cy="491.4" r="3.5"/>
<circle cx="648.5" cy="491.4" r="3.5"/>
<circle cx="649.5" cy="491.4" r="3.5"/>
<circle cx="650.5" cy="491.4" r="3.5"/>
<circle cx="651.5" cy="491.4" r="3.5"/>
<circle cx="652.5" cy="491.4" r="3.5"/>
<circle cx="653.5" cy="491.4" r="3.5"/>
<circle cx="654.5" cy="491.4" r="3.5"/>
<circle cx="655.5" cy="491.4" r="3.5"/>
<circle cx="656.5" cy="491.4" r="3.5"/>
<circle cx="657.5" cy="491.4" r="3.5"/>
<circle cx="658.4" cy="491.4" r="3.5"/>
<circle cx="659.4" cy="491.4" r="3.5"/>
<circle cx="660.4" cy="491.4" r="3.5"/>
<circle cx="661.4" cy="491.4" r="3.5"/>
<circle cx="662.4" cy="491.4" r="3.5"/>
<circle cx="663.4" cy="491.4" r="3.5"/>
<circle cx="664.4" cy="491.4" r="3.5"/>
<circle cx="665.4" cy="491.4" r="3.5"/>
<circle cx="666.4" cy="491.4" r="3.5"/>
<circle cx="667.4" cy="491.4" r="3.5"/>
<circle cx="668.4" cy="491.4" r="3.5"/>
<circle cx="669.4" cy="491.4" r="3.5"/>
<circle cx="602.8" cy="442.5" r="3.5"/>
<circle cx="603.8" cy="442.5" r="3.5"/>
<circle cx="604.7" cy="442.5" r="3.5"/>
<circle cx="605.7" cy="442.5" r="3.5"/>
<circle cx="606.6" cy="442.5" r="3.5"/>
<circle cx="607.6" cy="442.5" r="3.5"/>
<circle cx="608.6" cy="442.5" r="3.5"/>
<circle cx="609.5" cy="442.5" r="3.5"/>
<circle cx="610.5" cy="442.5" r="3.5"/>
<circle cx="611.4" cy="442.5" r="3.5"/>
<circle cx="612.4" cy="442.5" r="3.5"/>
<circle cx="613.4" cy="442.5" r="3.5"/>
<circle cx="614.3" cy="442.5" r="3.5"/>
<circle cx="615.3" cy="442.5" r="3.5"/>
<circle cx="616.2" cy="442.5" r="3.5"/>
<circle cx="617.2" cy="442.5" r="3.5"/>
<circle cx="618.2" cy="442.5" r="3.5"/>
<circle cx="619.1" cy="442.5" r="3.5"/>
<circle cx="620.1" cy="442.5" r="3.5"/>
<circle cx="621.0" cy="442.5" r="3.5"/>
<circle cx="622.0" cy="442.5" r="3.5"/>
<circle cx="585.3" cy="413.2" r="3.5"/>
<circle cx="586.3" cy="413.2" r="3.5"/>
<circle cx="587.2" cy="413.2" r="3.5"/>
<circle cx="588.2" cy="413.2" r="3.5"/>
<circle cx="589.2" cy="413.2" r="3.5"/>
<circle cx="590.1" cy="413.2" r="3.5"/>
<circle cx="591.1" cy="413.2" r="3.5"/>
<circle cx="592.1" cy="413.2" r="3.5"/>
<circle cx="593.0" cy="413.2" r="3.5"/>
<circle cx="594.0" cy="413.2" r="3.5"/>
<circle cx="595.0" cy="413.2" r="3.5"/>
<circle cx="596.0" cy="413.2" r="3.5"/>
<circle cx="596.9" cy="413.2" r="3.5"/>
<circle cx="597.9" cy="413.2" r="3.5"/>
<circle cx="598.9" cy="413.2" r="3.5"/>
<circle cx="599.8" cy="413.2" r="3.5"/>
<circle cx="600.8" cy="413.2" r="3.5"/>
<circle cx="601.8" cy="413.2" r="3.5"/>
<circle cx="602.7" cy="413.2" r="3.5"/>
<circle cx="603.7" cy="413.2" r="3.5"/>
<circle cx="578.6" cy="393.2" r="3.5"/>
<circle cx="579.6" cy="393.2" r="3.5"/>
<circle cx="580.5" cy="393.2" r="3.5"/>
<circle cx="581.5" cy="393.2" r="3.5"/>
<circle cx="582.5" cy="393.2" r="3.5"/>
<circle cx="583.5" cy="393.2" r="3.5"/>
<circle cx="584.4" cy="393.2" r="3.5"/>
<circle cx="585.4" cy="393.2" r="3.5"/>
<circle cx="574.4" cy="377.3" r="3.5"/>
<circle cx="575.3" cy="377.3" r="3.5"/>
<circle cx="576.2" cy="377.3" r="3.5"/>
<circle cx="577.1" cy="377.3" r="3.5"/>
<circle cx="578.0" cy="377.3" r="3.5"/>
<circle cx="571.0" cy="364.4" r="3.5"/>
<circle cx="572.0" cy="364.4" r="3.5"/>
<circle cx="573.0" cy="364.4" r="3.5"/>
<circle cx="574.0" cy="364.4" r="3.5"/>
<circle cx="568.0" cy="353.5" r="3.5"/>
<circle cx="568.9" cy="353.5" r="3.5"/>
<circle cx="569.7" cy="353.5" r="3.5"/>
<circle cx="570.6" cy="353.5" r="3.5"/>
<circle cx="565.0" cy="344.0" r="3.5"/>
<circle cx="566.0" cy="344.0" r="3.5"/>
<circle cx="567.0" cy="344.0" r="3.5"/>
<circle cx="568.0" cy="344.0" r="3.5"/>
<circle cx="562.0" cy="335.6" r="3.5"/>
<circle cx="563.0" cy="335.6" r="3.5"/>
<circle cx="564.0" cy="335.6" r="3.5"/>
<circle cx="560.6" cy="328.1" r="3.5"/>
<circle cx="561.3" cy="328.1" r="3.5"/>
<circle cx="562.0" cy="328.1" r="3.5"/>
</g>
<text transform="translate(89.3,549.6) scale(0.960,1.085)" font-size="37">10</text><text transform="translate(136.4,531.5) scale(1.000,1.100)" font-size="30">0</text>
<text transform="translate(253.4,549.6) scale(0.960,1.085)" font-size="37">10</text><text transform="translate(301.1,529.7) scale(1.000,1.020)" font-size="30">1</text>
<text transform="translate(417.7,549.6) scale(0.960,1.085)" font-size="37">10</text><text transform="translate(464.8,530.0) scale(1.000,1.050)" font-size="30">2</text>
<text transform="translate(581.9,549.6) scale(0.960,1.085)" font-size="37">10</text><text transform="translate(629.0,530.9) scale(1.000,1.080)" font-size="30">3</text>
<text transform="translate(746.1,549.6) scale(0.960,1.085)" font-size="37">10</text><text transform="translate(793.2,529.8) scale(1.000,1.030)" font-size="30">4</text>
<text transform="translate(43.8,511.6) scale(0.960,1.085)" font-size="37">10</text><text transform="translate(91.4,492.5) scale(1.000,1.090)" font-size="30">0</text>
<text transform="translate(43.8,348.2) scale(0.960,1.085)" font-size="37">10</text><text transform="translate(91.9,328.4) scale(1.000,1.030)" font-size="30">1</text>
<text transform="translate(43.8,183.6) scale(0.960,1.085)" font-size="37">10</text><text transform="translate(91.4,164.3) scale(1.000,1.050)" font-size="30">2</text>
<text x="378.7" y="594.5" font-size="36.7">Rank (i)</text>
<text transform="translate(29.3,367.4) rotate(-90) scale(1.01,1.06)" font-size="36.7">Degree (d(i))</text>
</svg></body></html>
